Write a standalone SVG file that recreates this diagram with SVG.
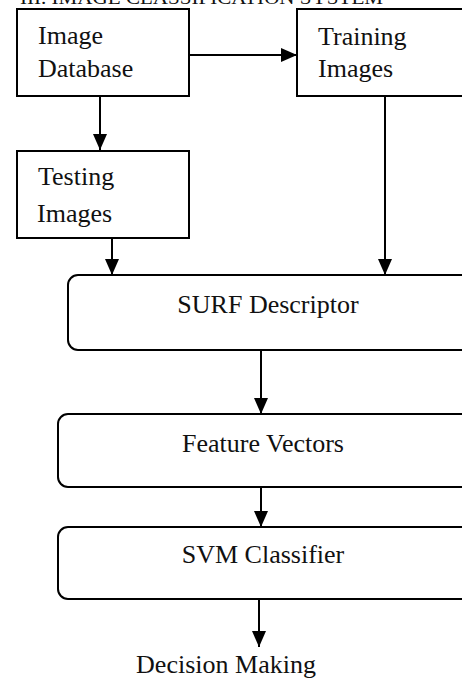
<svg xmlns="http://www.w3.org/2000/svg" width="462" height="679" viewBox="0 0 462 679">
<style>
.box{fill:#fff;stroke:#000;stroke-width:2}
.t{font-family:"Liberation Serif","Times New Roman",serif;font-size:26px;fill:#111}
.c{text-anchor:middle}
.ln{stroke:#000;stroke-width:2;fill:none}
</style>
<defs>
<marker id="ah" markerUnits="userSpaceOnUse" markerWidth="16" markerHeight="16" viewBox="0 0 16 16" refX="16" refY="8" orient="auto">
<path d="M0,1 L16,8 L0,15 Z" fill="#000"/>
</marker>
</defs>
<text class="t" x="20" y="4" font-size="19" textLength="363" lengthAdjust="spacingAndGlyphs" style="font-size:19px">III. IMAGE CLASSIFICATION SYSTEM</text>
<g id="connectors">
<line class="ln" x1="189" y1="55" x2="297" y2="55" marker-end="url(#ah)"/>
<line class="ln" x1="100" y1="96" x2="100" y2="150" marker-end="url(#ah)"/>
<line class="ln" x1="385" y1="96" x2="385" y2="275" marker-end="url(#ah)"/>
<line class="ln" x1="112" y1="238" x2="112" y2="275" marker-end="url(#ah)"/>
<line class="ln" x1="261" y1="350" x2="261" y2="414" marker-end="url(#ah)"/>
<line class="ln" x1="261" y1="487" x2="261" y2="527" marker-end="url(#ah)"/>
<line class="ln" x1="259" y1="599" x2="259" y2="647" marker-end="url(#ah)"/>
</g>
<g id="image-database">
<rect class="box" x="17" y="9" width="172" height="87"/>
<text class="t" x="38" y="44">Image</text>
<text class="t" x="38" y="77">Database</text>
</g>
<g id="training-images">
<rect class="box" x="297" y="9" width="180" height="87"/>
<text class="t" x="318" y="45">Training</text>
<text class="t" x="318" y="77">Images</text>
</g>
<g id="testing-images">
<rect class="box" x="17" y="151" width="172" height="87"/>
<text class="t" x="38" y="185">Testing</text>
<text class="t" x="37" y="222">Images</text>
</g>
<g id="surf-descriptor">
<rect class="box" x="68" y="275" width="410" height="75" rx="10" ry="10"/>
<text class="t c" x="268" y="313">SURF Descriptor</text>
</g>
<g id="feature-vectors">
<rect class="box" x="58" y="414" width="420" height="73" rx="10" ry="10"/>
<text class="t c" x="263" y="452">Feature Vectors</text>
</g>
<g id="svm-classifier">
<rect class="box" x="58" y="527" width="420" height="72" rx="10" ry="10"/>
<text class="t c" x="263" y="563">SVM Classifier</text>
</g>
<g id="decision-making">
<text class="t c" x="226" y="673">Decision Making</text>
</g>
</svg>
